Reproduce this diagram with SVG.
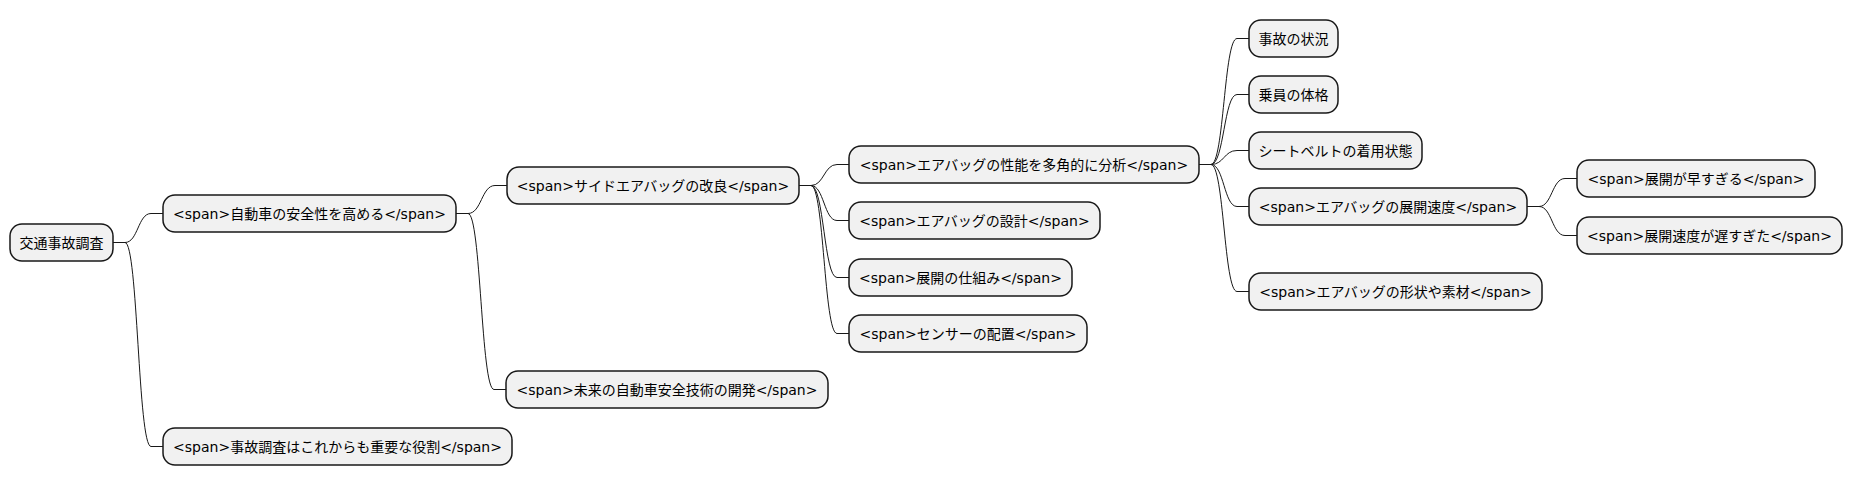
<svg xmlns="http://www.w3.org/2000/svg" width="1853" height="485" viewBox="0 0 1853 485">
<style>
.n rect{fill:#F1F1F1;stroke:#181818;stroke-width:1.5}
.n text{font-family:"DejaVu Sans","Noto Sans CJK JP",sans-serif;font-size:14px;fill:#000;text-anchor:middle}
.c path{fill:none;stroke:#181818;stroke-width:1}
</style>
<rect width="1853" height="485" fill="#fff"/>
<g class="c" id="connectors">
<path d="M113 242.5 L125 242.5 C138 242.5 138 213.5 151 213.5 L163 213.5"/>
<path d="M113 242.5 L125 242.5 C138 242.5 138 446.5 151 446.5 L163 446.5"/>
<path d="M456 213.5 L468 213.5 C481.5 213.5 481.5 185.5 495 185.5 L507 185.5"/>
<path d="M456 213.5 L468 213.5 C481 213.5 481 389.5 494 389.5 L506 389.5"/>
<path d="M799 185.5 L811 185.5 C824 185.5 824 164.5 837 164.5 L849 164.5"/>
<path d="M799 185.5 L811 185.5 C824 185.5 824 220.5 837 220.5 L849 220.5"/>
<path d="M799 185.5 L811 185.5 C824 185.5 824 277.5 837 277.5 L849 277.5"/>
<path d="M799 185.5 L811 185.5 C824 185.5 824 333.5 837 333.5 L849 333.5"/>
<path d="M1199 164.5 L1211 164.5 C1224 164.5 1224 38.5 1237 38.5 L1249 38.5"/>
<path d="M1199 164.5 L1211 164.5 C1224 164.5 1224 94.5 1237 94.5 L1249 94.5"/>
<path d="M1199 164.5 L1211 164.5 C1224 164.5 1224 150.5 1237 150.5 L1249 150.5"/>
<path d="M1199 164.5 L1211 164.5 C1224 164.5 1224 206.5 1237 206.5 L1249 206.5"/>
<path d="M1199 164.5 L1211 164.5 C1224 164.5 1224 291.5 1237 291.5 L1249 291.5"/>
<path d="M1527 206.5 L1539 206.5 C1552 206.5 1552 178.5 1565 178.5 L1577 178.5"/>
<path d="M1527 206.5 L1539 206.5 C1552 206.5 1552 235.5 1565 235.5 L1577 235.5"/>
</g>
<g class="n" id="root"><rect x="10" y="224" width="103" height="37" rx="12"/><text x="61.5" y="247.5">交通事故調査</text></g>
<g class="n" id="n1"><rect x="163" y="195" width="293" height="37" rx="12"/><text x="309.5" y="218.5">&lt;span&gt;自動車の安全性を高める&lt;/span&gt;</text></g>
<g class="n" id="n2"><rect x="507" y="167" width="292" height="37" rx="12"/><text x="653" y="190.5">&lt;span&gt;サイドエアバッグの改良&lt;/span&gt;</text></g>
<g class="n" id="n3"><rect x="849" y="146" width="350" height="37" rx="12"/><text x="1024" y="169.5">&lt;span&gt;エアバッグの性能を多角的に分析&lt;/span&gt;</text></g>
<g class="n" id="n4"><rect x="849" y="202" width="251" height="37" rx="12"/><text x="974.5" y="225.5">&lt;span&gt;エアバッグの設計&lt;/span&gt;</text></g>
<g class="n" id="n5"><rect x="849" y="259" width="223" height="37" rx="12"/><text x="960.5" y="282.5">&lt;span&gt;展開の仕組み&lt;/span&gt;</text></g>
<g class="n" id="n6"><rect x="849" y="315" width="238" height="37" rx="12"/><text x="968" y="338.5">&lt;span&gt;センサーの配置&lt;/span&gt;</text></g>
<g class="n" id="n7"><rect x="1249" y="20" width="89" height="37" rx="12"/><text x="1293.5" y="43.5">事故の状況</text></g>
<g class="n" id="n8"><rect x="1249" y="76" width="89" height="37" rx="12"/><text x="1293.5" y="99.5">乗員の体格</text></g>
<g class="n" id="n9"><rect x="1249" y="132" width="173" height="37" rx="12"/><text x="1335.5" y="155.5">シートベルトの着用状態</text></g>
<g class="n" id="n10"><rect x="1249" y="188" width="278" height="37" rx="12"/><text x="1388" y="211.5">&lt;span&gt;エアバッグの展開速度&lt;/span&gt;</text></g>
<g class="n" id="n11"><rect x="1249" y="273" width="293" height="37" rx="12"/><text x="1395.5" y="296.5">&lt;span&gt;エアバッグの形状や素材&lt;/span&gt;</text></g>
<g class="n" id="n12"><rect x="1577" y="160" width="238" height="37" rx="12"/><text x="1696" y="183.5">&lt;span&gt;展開が早すぎる&lt;/span&gt;</text></g>
<g class="n" id="n13"><rect x="1577" y="217" width="265" height="37" rx="12"/><text x="1709.5" y="240.5">&lt;span&gt;展開速度が遅すぎた&lt;/span&gt;</text></g>
<g class="n" id="n14"><rect x="506" y="371" width="322" height="37" rx="12"/><text x="667" y="394.5">&lt;span&gt;未来の自動車安全技術の開発&lt;/span&gt;</text></g>
<g class="n" id="n15"><rect x="163" y="428" width="349" height="37" rx="12"/><text x="337.5" y="451.5">&lt;span&gt;事故調査はこれからも重要な役割&lt;/span&gt;</text></g>
</svg>
